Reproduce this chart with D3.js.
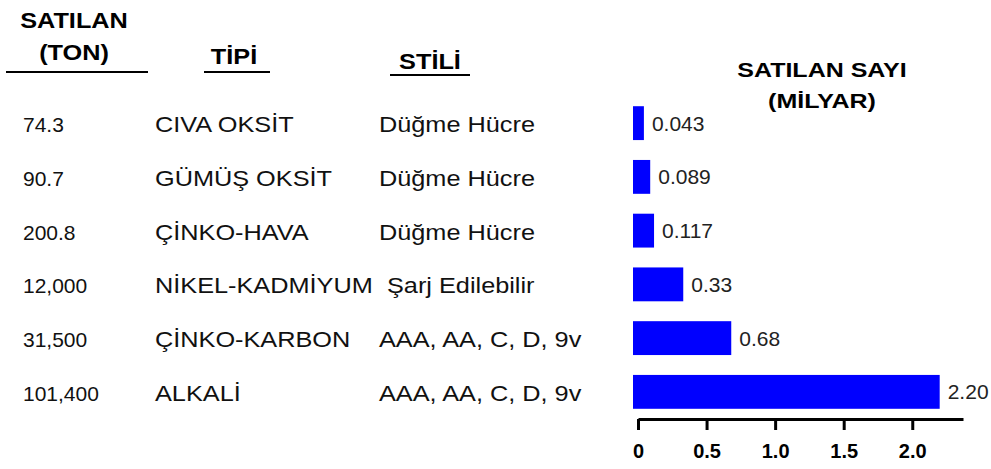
<!DOCTYPE html>
<html>
<head>
<meta charset="utf-8">
<script src="https://cdn.jsdelivr.net/npm/d3@7"></script>
<style>
  body { margin: 0; background: #fff; }
  text { font-family: "Liberation Sans", Arial, sans-serif; }
</style>
</head>
<body>
<div id="chart"></div>
<script>
// table columns
const tonnes = ["74.3", "90.7", "200.8", "12,000", "31,500", "101,400"];
const types = ["CIVA OKSİT", "GÜMÜŞ OKSİT", "ÇİNKO-HAVA", "NİKEL-KADMİYUM", "ÇİNKO-KARBON", "ALKALİ"];
const styles = ["Düğme Hücre", "Düğme Hücre", "Düğme Hücre", "Şarj Edilebilir", "AAA, AA, C, D, 9v", "AAA, AA, C, D, 9v"];
// sold count, billions
const counts = [0.043, 0.089, 0.117, 0.33, 0.68, 2.20];
const countLabels = ["0.043", "0.089", "0.117", "0.33", "0.68", "2.20"];
const xTicks = [0, 0.5, 1.0, 1.5, 2.0];

const width = 991, height = 469;
const stretch = 1.15; // the original lettering is wide

const svg = d3.select("#chart").append("svg")
    .attr("width", width)
    .attr("height", height);

svg.append("rect").attr("width", width).attr("height", height).attr("fill", "#fff");

const rows = d3.range(types.length);

const y = d3.scaleBand()
    .domain(rows)
    .range([96, 419])
    .paddingInner(0.37)
    .paddingOuter(0.19);

const x = d3.scaleLinear()
    .domain([0, 2.37])
    .range([638, 963]);

// text helper: places text and stretches it sideways
const wide = (sel, tx, ty, sx) =>
    sel.attr("transform", `translate(${tx},${ty}) scale(${sx},1)`);

/* ---------- column headers ---------- */
const head = svg.append("g")
    .attr("font-weight", "bold")
    .attr("font-size", 22)
    .attr("fill", "#000");

const headers = [
    { lines: ["SATILAN", "(TON)"], cx: 74, y0: 28, rule: [6, 148, 72] },
    { lines: ["TİPİ"], cx: 234, y0: 64, rule: [204, 270, 72] },
    { lines: ["STİLİ"], cx: 430, y0: 69, rule: [390, 470, 75] }
];

headers.forEach(h => {
    h.lines.forEach((t, i) => {
        head.append("text")
            .attr("text-anchor", "middle")
            .call(wide, h.cx, h.y0 + i * 32, 1.15)
            .text(t);
    });
    head.append("line")
        .attr("x1", h.rule[0]).attr("x2", h.rule[1])
        .attr("y1", h.rule[2]).attr("y2", h.rule[2])
        .attr("stroke", "#000")
        .attr("stroke-width", 2);
});

["SATILAN SAYI", "(MİLYAR)"].forEach((t, i) => {
    head.append("text")
        .attr("text-anchor", "middle")
        .attr("font-size", 20)
        .call(wide, 822, 77 + i * 31, 1.25)
        .text(t);
});

/* ---------- table rows ---------- */
const table = svg.append("g")
    .attr("font-size", 22)
    .attr("fill", "#111");

table.selectAll("text.ton")
    .data(rows)
    .join("text")
    .attr("class", "ton")
    .attr("x", 23)
    .attr("font-size", 21)
    .attr("y", d => y(d) + y.bandwidth() / 2 + 9)
    .text(d => tonnes[d]);

table.selectAll("text.type")
    .data(rows)
    .join("text")
    .attr("class", "type")
    .each(function(d) {
        d3.select(this).call(wide, 155, y(d) + y.bandwidth() / 2 + 9, stretch);
    })
    .text(d => types[d]);

table.selectAll("text.style")
    .data(rows)
    .join("text")
    .attr("class", "style")
    .each(function(d) {
        const tx = d === 3 ? 387 : 379;
        d3.select(this).call(wide, tx, y(d) + y.bandwidth() / 2 + 9, stretch);
    })
    .text(d => styles[d]);

/* ---------- bars ---------- */
const bars = svg.append("g");

bars.selectAll("rect")
    .data(rows)
    .join("rect")
    .attr("x", x(0) - 5)
    .attr("y", d => y(d))
    .attr("width", d => x(counts[d]) - x(0) + 5)
    .attr("height", y.bandwidth())
    .attr("fill", "#0000ff");

bars.selectAll("text")
    .data(rows)
    .join("text")
    .attr("x", d => x(counts[d]) + 8)
    .attr("y", d => y(d) + y.bandwidth() / 2)
    .attr("dy", "0.36em")
    .attr("font-size", 21)
    .attr("fill", "#222")
    .text(d => countLabels[d]);

/* ---------- axis ---------- */
const axis = svg.append("g")
    .attr("transform", "translate(0,419)")
    .call(d3.axisBottom(x)
        .tickValues(xTicks)
        .tickSize(11)
        .tickSizeOuter(0)
        .tickPadding(14)
        .tickFormat(d => d === 0 ? "0" : d3.format(".1f")(d)));

axis.select(".domain").attr("stroke", "#000").attr("stroke-width", 3);
axis.selectAll(".tick line").attr("stroke", "#000").attr("stroke-width", 3);
axis.selectAll(".tick text")
    .attr("font-family", "'Liberation Sans', Arial, sans-serif")
    .attr("font-size", 20)
    .attr("font-weight", "bold")
    .attr("fill", "#000");
</script>
</body>
</html>
